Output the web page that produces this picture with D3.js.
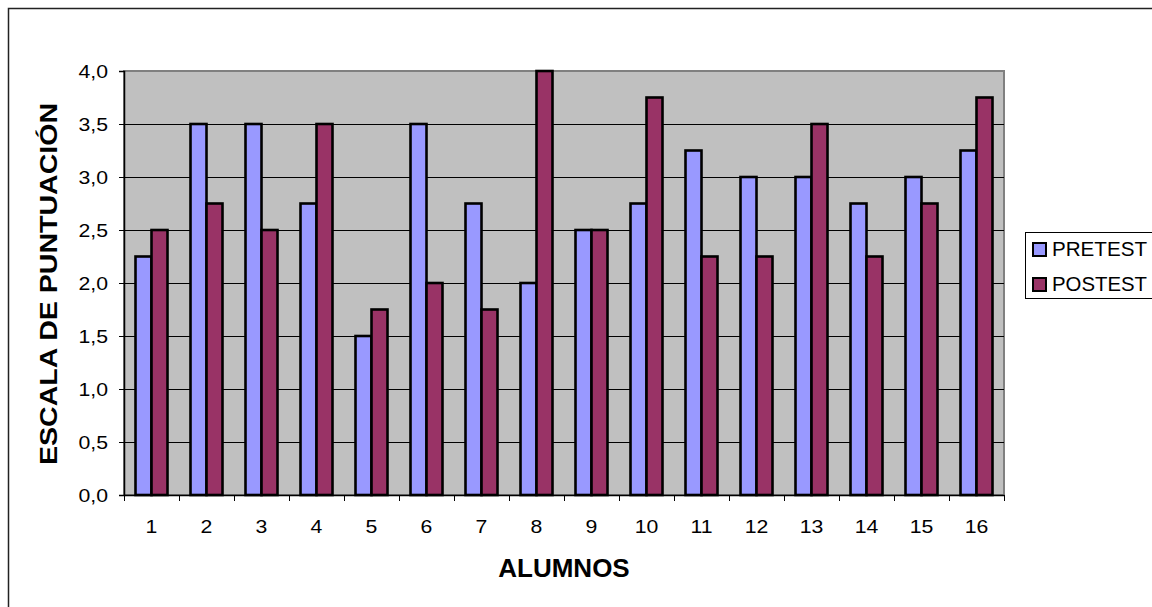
<!DOCTYPE html>
<html>
<head>
<meta charset="utf-8">
<script src="https://cdn.jsdelivr.net/npm/d3@7"></script>
<style>
  html, body { margin: 0; padding: 0; background: #fff; }
  svg { display: block; font-family: Arial, "Liberation Sans", sans-serif; }
</style>
</head>
<body>
<svg id="chart" width="1152" height="607"></svg>
<script>
// Students and their scores before and after the course
const alumnos = ["1","2","3","4","5","6","7","8","9","10","11","12","13","14","15","16"];
const pretest = [2.25, 3.5, 3.5, 2.75, 1.5, 3.5, 2.75, 2.0, 2.5, 2.75, 3.25, 3.0, 3.0, 2.75, 3.0, 3.25];
const postest = [2.5, 2.75, 2.5, 3.5, 1.75, 2.0, 1.75, 4.0, 2.5, 3.75, 2.25, 2.25, 3.5, 2.25, 2.75, 3.75];
const yTicks = [0, 0.5, 1, 1.5, 2, 2.5, 3, 3.5, 4];
const seriesNames = ["PRETEST", "POSTEST"];
const seriesColors = ["#9999FF", "#993366"];

const FONT = "Arial, 'Liberation Sans', sans-serif";
const svg = d3.select("#chart");
const plot = { left: 124, top: 71, right: 1004, bottom: 495 };

// Outer frame
svg.append("rect").attr("x", 8.5).attr("y", 8.5).attr("width", 1160).attr("height", 620)
  .attr("fill", "#fff").attr("stroke", "#222").attr("stroke-width", 1.5);

const x = d3.scaleBand().domain(alumnos).range([plot.left, plot.right]).padding(0);
const y = d3.scaleLinear().domain([0, 4]).range([plot.bottom, plot.top]);

// Plot background
svg.append("rect").attr("x", plot.left).attr("y", plot.top)
  .attr("width", plot.right - plot.left).attr("height", plot.bottom - plot.top)
  .attr("fill", "#C0C0C0").attr("stroke", "#808080").attr("stroke-width", 2);

// Horizontal gridlines
svg.append("g").selectAll("line").data(yTicks.filter(d => d > 0 && d < 4)).join("line")
  .attr("x1", plot.left).attr("x2", plot.right)
  .attr("y1", d => Math.round(y(d)) + 0.5).attr("y2", d => Math.round(y(d)) + 0.5)
  .attr("stroke", "#000").attr("stroke-width", 1);

// Bars
const barW = 16;
const series = [pretest, postest];
series.forEach((vals, si) => {
  svg.append("g").selectAll("rect").data(vals).join("rect")
    .attr("x", (d, i) => x(alumnos[i]) + x.bandwidth() / 2 - barW + si * barW)
    .attr("y", d => y(d))
    .attr("width", barW)
    .attr("height", d => y(0) - y(d))
    .attr("fill", seriesColors[si])
    .attr("stroke", "#000").attr("stroke-width", 2.6);
});

// Y axis
const yAxis = svg.append("g").attr("transform", `translate(${plot.left},0)`)
  .call(d3.axisLeft(y).tickValues(yTicks).tickSize(5).tickPadding(0)
    .tickFormat(d => d3.format(".1f")(d).replace(".", ",")));
yAxis.select(".domain").attr("stroke", "#000").attr("stroke-width", 1.5);
yAxis.selectAll(".tick line").attr("stroke", "#000");
yAxis.selectAll(".tick text")
  .attr("x", null).attr("dy", "0.36em")
  .attr("transform", "translate(-16,0) scale(1.18,1)")
  .style("font-size", "18px").style("font-family", FONT).attr("fill", "#000");

// X axis with ticks at category boundaries
const xAxis = svg.append("g").attr("transform", `translate(0,${plot.bottom})`)
  .call(d3.axisBottom(x).tickSize(0).tickPadding(0));
xAxis.select(".domain").attr("stroke", "#000").attr("stroke-width", 1.5);
xAxis.selectAll(".tick text")
  .attr("y", null).attr("dy", null)
  .attr("transform", "translate(0,38) scale(1.18,1)")
  .style("font-size", "18px").style("font-family", FONT).attr("fill", "#000");
const bounds = alumnos.map(a => x(a)).concat([plot.right]);
xAxis.append("g").selectAll("line").data(bounds).join("line")
  .attr("x1", d => d + 0.5).attr("x2", d => d + 0.5).attr("y1", 0).attr("y2", 6)
  .attr("stroke", "#000");

// Axis titles
svg.append("text").attr("x", (plot.left + plot.right) / 2).attr("y", 577)
  .attr("text-anchor", "middle").style("font-size", "26px").attr("font-weight", "bold")
  .text("ALUMNOS");
svg.append("text").attr("transform", "translate(57,284) rotate(-90)")
  .attr("text-anchor", "middle").style("font-size", "24px").attr("font-weight", "bold")
  .attr("textLength", 362).attr("lengthAdjust", "spacingAndGlyphs")
  .text("ESCALA DE PUNTUACIÓN");

// Legend
const lg = svg.append("g");
lg.append("rect").attr("x", 1025.5).attr("y", 232.5).attr("width", 140).attr("height", 66)
  .attr("fill", "#fff").attr("stroke", "#000").attr("stroke-width", 1);
seriesNames.forEach((name, i) => {
  const base = 256 + i * 35;
  lg.append("rect").attr("x", 1033).attr("y", base - 13).attr("width", 13).attr("height", 13)
    .attr("fill", seriesColors[i]).attr("stroke", "#000").attr("stroke-width", 2);
  lg.append("text").attr("x", 1052).attr("y", base).style("font-size", "19.5px")
    .attr("textLength", 95).attr("lengthAdjust", "spacingAndGlyphs").text(name);
});
</script>
</body>
</html>
